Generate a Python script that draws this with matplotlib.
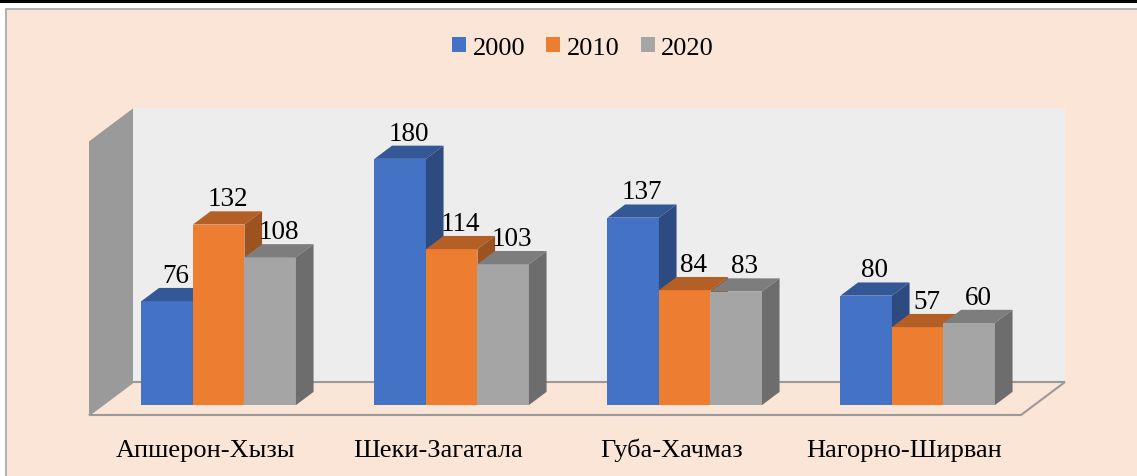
#! /usr/bin/env python3
import numpy as np
import matplotlib.pyplot as plt
from matplotlib.patches import Polygon, Rectangle, Patch
from matplotlib.lines import Line2D
from matplotlib.colors import to_rgb

regions = ['Апшерон-Хызы', 'Шеки-Загатала', 'Губа-Хачмаз', 'Нагорно-Ширван']
years = ['2000', '2010', '2020']
v2000 = [76, 180, 137, 80]
v2010 = [132, 114, 84, 57]
v2020 = [108, 103, 83, 60]
series = [v2000, v2010, v2020]
colors = ['#4472C4', '#ED7D31', '#A5A5A5']
vmax = 200

W, H = 1137, 477
PXC = 233.0     # px per category on the floor front edge
PXV = 1.368     # px per value unit
X0, Y0 = 89, 416  # floor front-left corner (px, from top)
DX = 44 / PXC   # full depth in category units
DY = 33 / PXV   # full depth in value units
BW = 51.5 / PXC
d0, d1 = 0.3, 0.7
dd = d1 - d0

peach = '#FBE5D6'
font = 'Liberation Serif'


def shade(c, f):
    return tuple(np.array(to_rgb(c)) * f)


fig = plt.figure(figsize=(W / 100, H / 100), dpi=100)
fig.patch.set_facecolor('white')

# chart area + black rule on top
fig.add_artist(Rectangle((6 / W, -0.1), 1.2, (H - 10) / H + 0.1, transform=fig.transFigure,
                         facecolor=peach, edgecolor='#A6A6A6', lw=1.2, zorder=-2))
fig.add_artist(Line2D([0, 1], [1 - 1.5 / H] * 2, transform=fig.transFigure,
                      color='black', lw=2.2, zorder=-1))

ax = fig.add_axes([0, 0, 1, 1])
ax.set_facecolor('none')
ax.set_xlim(-X0 / PXC, (W - X0) / PXC)
ax.set_ylim(-(H - Y0) / PXV, Y0 / PXV)
ax.axis('off')

n = len(regions)
# walls and floor
ax.add_patch(Rectangle((DX, DY), n, vmax, facecolor='#EDEDED', edgecolor='none', zorder=1))
ax.add_patch(Polygon([(0, 0), (DX, DY), (DX, vmax + DY), (0, vmax)],
                     facecolor='#9A9A9A', edgecolor='none', zorder=1))
ax.add_patch(Polygon([(0, 0), (n, 0), (n + DX, DY), (DX, DY)], closed=True,
                     facecolor=peach, edgecolor='#9A9A9A', lw=1.5, zorder=1.5))

# bars
z = 2
for i in range(n):
    for j, (vals, c) in enumerate(zip(series, colors)):
        v = vals[i]
        x0 = i + 0.5 - 1.5 * BW + j * BW + d0 * DX
        b = d0 * DY
        ax.bar(x0, v, BW, bottom=b, align='edge', color=c, lw=0, zorder=z)
        top = [(x0, b + v), (x0 + BW, b + v), (x0 + BW + dd * DX, b + v + dd * DY),
               (x0 + dd * DX, b + v + dd * DY)]
        side = [(x0 + BW, b), (x0 + BW + dd * DX, b + dd * DY),
                (x0 + BW + dd * DX, b + v + dd * DY), (x0 + BW, b + v)]
        ax.add_patch(Polygon(top, facecolor=shade(c, 0.76), edgecolor='none', zorder=z + 0.1))
        ax.add_patch(Polygon(side, facecolor=shade(c, 0.66), edgecolor='none', zorder=z + 0.1))
        ax.text(x0 + BW / 2 + dd * DX / 2, b + v + dd * DY + 6 / PXV, str(v),
                ha='center', va='baseline', fontsize=19.5, family=font, zorder=20)
        z += 0.2

# category labels
for i, r in enumerate(regions):
    ax.text(i + 0.5, -41 / PXV, r, ha='center', va='baseline', fontsize=19, family=font)

handles = [Patch(facecolor=c) for c in colors]
ax.legend(handles, years, loc='center', bbox_to_anchor=(583 / W, 1 - 49 / H),
          bbox_transform=fig.transFigure, ncol=3, frameon=False,
          handlelength=0.53, handleheight=0.53, handletextpad=0.25, columnspacing=0.8,
          prop={'family': font, 'size': 19})

fig.savefig('out.png', dpi=100)
